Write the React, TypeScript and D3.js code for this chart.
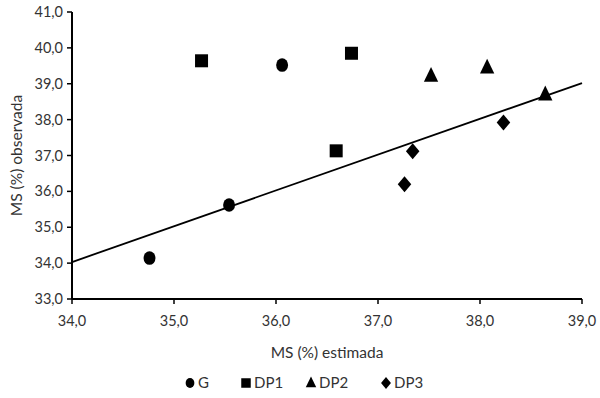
import React from "react";
import * as d3 from "d3";

// values
const xTicks = [34, 35, 36, 37, 38, 39];
const yTicks = [33, 34, 35, 36, 37, 38, 39, 40, 41];
const seriesNames = ["G", "DP1", "DP2", "DP3"];
const gEst = [36.06, 35.54, 34.76];
const gObs = [39.52, 35.62, 34.14];
const dp1Est = [35.27, 36.74, 36.59];
const dp1Obs = [39.64, 39.85, 37.13];
const dp2Est = [37.52, 38.07, 38.64];
const dp2Obs = [39.22, 39.45, 38.7];
const dp3Est = [37.34, 37.26, 38.23];
const dp3Obs = [37.12, 36.2, 37.92];
const lineEst = [34, 39];
const lineObs = [34.03, 39.02];

const fmt = (v: number) => v.toFixed(1).replace(".", ",");
const font = "Lato, 'Open Sans', sans-serif";

function marker(kind: string, cx: number, cy: number, s: number) {
  if (kind === "G")
    return <ellipse cx={cx} cy={cy} rx={s * 0.46} ry={s * 0.52} fill="#000" />;
  if (kind === "DP1")
    return <rect x={cx - s / 2} y={cy - s / 2} width={s} height={s} fill="#000" />;
  if (kind === "DP2") {
    const h = s * 1.15;
    return (
      <path
        d={`M${cx},${cy - h * 0.6}L${cx + s * 0.55},${cy + h * 0.4}L${cx - s * 0.55},${cy + h * 0.4}Z`}
        fill="#000"
      />
    );
  }
  const w = s * 0.52, h = s * 0.62;
  return (
    <path
      d={`M${cx},${cy - h}L${cx + w},${cy}L${cx},${cy + h}L${cx - w},${cy}Z`}
      fill="#000"
    />
  );
}

export default function App() {
  const width = 600, height = 398;
  const x = d3.scaleLinear().domain([34, 39]).range([72, 582]);
  const y = d3.scaleLinear().domain([33, 41]).range([299, 12]);

  const series = [
    { name: "G", est: gEst, obs: gObs },
    { name: "DP1", est: dp1Est, obs: dp1Obs },
    { name: "DP2", est: dp2Est, obs: dp2Obs },
    { name: "DP3", est: dp3Est, obs: dp3Obs },
  ];

  const line = d3
    .line<number>()
    .x((d) => x(d))
    .y((d, i) => y(lineObs[i]));

  const legendX = [190, 246, 311, 386];

  return (
    <svg
      width={width}
      height={height}
      style={{ position: "absolute", left: 0, top: 0, background: "#fff" }}
      fontFamily={font}
    >
      <rect width={width} height={height} fill="#fff" />
      {/* y axis */}
      <line x1={x(34)} x2={x(34)} y1={y(33)} y2={y(41)} stroke="#000" strokeWidth={2} />
      {yTicks.map((t) => (
        <g key={"y" + t}>
          <line x1={x(34) - 5} x2={x(34)} y1={y(t)} y2={y(t)} stroke="#000" strokeWidth={1.5} />
          <text x={x(34) - 9} y={y(t)} dy="0.35em" textAnchor="end" fontSize={14.5} fill="#333">
            {fmt(t)}
          </text>
        </g>
      ))}
      {/* x axis */}
      <line x1={x(34)} x2={x(39)} y1={y(33)} y2={y(33)} stroke="#000" strokeWidth={2} />
      {xTicks.map((t) => (
        <g key={"x" + t}>
          <line x1={x(t)} x2={x(t)} y1={y(33)} y2={y(33) + 5} stroke="#000" strokeWidth={1.5} />
          <text x={x(t)} y={y(33) + 27} textAnchor="middle" fontSize={14.5} fill="#333">
            {fmt(t)}
          </text>
        </g>
      ))}
      <text x={327} y={358} textAnchor="middle" fontSize={15.5} fill="#333">
        MS (%) estimada
      </text>
      <text
        transform={`translate(22,${y(37)}) rotate(-90)`}
        textAnchor="middle"
        fontSize={15.5}
        fill="#333"
      >
        MS (%) observada
      </text>
      {/* 1:1 line */}
      <path d={line(lineEst) || ""} fill="none" stroke="#000" strokeWidth={1.8} />
      {series.map((s) =>
        s.est.map((e, i) => (
          <g key={s.name + i}>{marker(s.name, x(e), y(s.obs[i]), 13)}</g>
        ))
      )}
      {/* legend */}
      {seriesNames.map((n, i) => (
        <g key={"lg" + n}>
          {marker(n, legendX[i], 383, 9.5)}
          <text x={legendX[i] + 8} y={383} dy="0.36em" fontSize={15} fill="#333">
            {n}
          </text>
        </g>
      ))}
    </svg>
  );
}
